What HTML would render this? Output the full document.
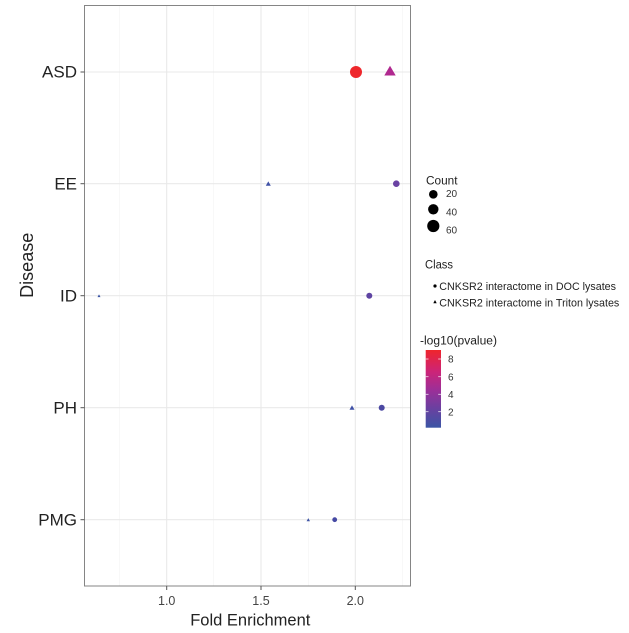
<!DOCTYPE html>
<html>
<head>
<meta charset="utf-8">
<style>
html,body{margin:0;padding:0;background:#fff;}
svg{display:block;font-family:"Liberation Sans",Arial,sans-serif;}
</style>
</head>
<body>
<svg width="629" height="633" viewBox="0 0 629 633" xmlns="http://www.w3.org/2000/svg">
<defs>
<linearGradient id="cb" x1="0" y1="1" x2="0" y2="0">
<stop offset="0" stop-color="#3b55a5"/>
<stop offset="0.25" stop-color="#6a40a0"/>
<stop offset="0.48" stop-color="#9b2f98"/>
<stop offset="0.72" stop-color="#cc2478"/>
<stop offset="1" stop-color="#ef252c"/>
</linearGradient>
</defs>
<rect x="0" y="0" width="629" height="633" fill="#fff"/>
<!-- minor grid -->
<g stroke="#f2f2f2" stroke-width="0.6">
<line x1="119.3" y1="5.5" x2="119.3" y2="586"/>
<line x1="213.7" y1="5.5" x2="213.7" y2="586"/>
<line x1="308.3" y1="5.5" x2="308.3" y2="586"/>
<line x1="402.7" y1="5.5" x2="402.7" y2="586"/>
</g>
<!-- major grid -->
<g stroke="#e9e9e9" stroke-width="1.1">
<line x1="166.7" y1="5.5" x2="166.7" y2="586"/>
<line x1="261" y1="5.5" x2="261" y2="586"/>
<line x1="355.3" y1="5.5" x2="355.3" y2="586"/>
<line x1="84.5" y1="72" x2="410.5" y2="72"/>
<line x1="84.5" y1="183.7" x2="410.5" y2="183.7"/>
<line x1="84.5" y1="295.7" x2="410.5" y2="295.7"/>
<line x1="84.5" y1="407.7" x2="410.5" y2="407.7"/>
<line x1="84.5" y1="519.7" x2="410.5" y2="519.7"/>
</g>
<!-- points -->
<circle cx="356" cy="72" r="6" fill="#ee272c"/>
<polygon points="384.3,75.5 395.7,75.5 390,65.8" fill="#b0288f"/>
<circle cx="396.3" cy="183.7" r="3.3" fill="#6a42a3"/>
<polygon points="265.8,185.8 270.8,185.8 268.3,181.4" fill="#3f51a6"/>
<circle cx="369.3" cy="295.7" r="3" fill="#5e44a2"/>
<polygon points="97.5,297.1 100.5,297.1 99,294.4" fill="#3b55a5"/>
<circle cx="381.7" cy="407.7" r="3" fill="#4b48a2"/>
<polygon points="349.5,409.8 354.5,409.8 352,405.4" fill="#3f50a6"/>
<circle cx="334.7" cy="519.7" r="2.4" fill="#4549a3"/>
<polygon points="306.6,521.3 310,521.3 308.3,518.1" fill="#3d53a5"/>
<!-- panel border -->
<rect x="84.5" y="5.5" width="326" height="580.5" fill="none" stroke="#858585" stroke-width="1"/>
<!-- ticks -->
<g stroke="#555" stroke-width="1">
<line x1="80.5" y1="72" x2="84.5" y2="72"/>
<line x1="80.5" y1="183.7" x2="84.5" y2="183.7"/>
<line x1="80.5" y1="295.7" x2="84.5" y2="295.7"/>
<line x1="80.5" y1="407.7" x2="84.5" y2="407.7"/>
<line x1="80.5" y1="519.7" x2="84.5" y2="519.7"/>
<line x1="166.7" y1="586" x2="166.7" y2="590"/>
<line x1="261" y1="586" x2="261" y2="590"/>
<line x1="355.3" y1="586" x2="355.3" y2="590"/>
</g>
<!-- y tick labels -->
<g font-size="17" fill="#222" text-anchor="end">
<text x="77" y="77.5">ASD</text>
<text x="77" y="189.5">EE</text>
<text x="77" y="301.5">ID</text>
<text x="77" y="413.5">PH</text>
<text x="77" y="525.5">PMG</text>
</g>
<!-- x tick labels -->
<g font-size="12.5" fill="#444" text-anchor="middle">
<text x="166.7" y="605">1.0</text>
<text x="261" y="605">1.5</text>
<text x="355.3" y="605">2.0</text>
</g>
<!-- axis titles -->
<text x="250.3" y="625.5" font-size="16.5" fill="#222" text-anchor="middle">Fold Enrichment</text>
<text transform="translate(33,265.3) rotate(-90)" font-size="18" fill="#222" text-anchor="middle">Disease</text>
<!-- Count legend -->
<text x="426" y="184.3" font-size="11.5" fill="#222" textLength="31.5" lengthAdjust="spacingAndGlyphs">Count</text>
<circle cx="433.3" cy="194.3" r="4.3" fill="#000"/>
<circle cx="433.3" cy="209.3" r="5.2" fill="#000"/>
<circle cx="433.3" cy="226" r="6.1" fill="#000"/>
<g font-size="10" fill="#333">
<text x="446" y="197">20</text>
<text x="446" y="215.5">40</text>
<text x="446" y="233.3">60</text>
</g>
<!-- Class legend -->
<text x="425" y="268.3" font-size="11.5" fill="#222" textLength="28" lengthAdjust="spacingAndGlyphs">Class</text>
<circle cx="435" cy="286" r="1.6" fill="#000"/>
<polygon points="433.3,303.2 436.7,303.2 435,300" fill="#000"/>
<text x="439.3" y="289.8" font-size="10.6" fill="#222" textLength="176.7" lengthAdjust="spacingAndGlyphs">CNKSR2 interactome in DOC lysates</text>
<text x="439.3" y="306.3" font-size="10.6" fill="#222" textLength="180" lengthAdjust="spacingAndGlyphs">CNKSR2 interactome in Triton lysates</text>
<!-- colorbar legend -->
<text x="420" y="344.5" font-size="11.5" fill="#222" textLength="77" lengthAdjust="spacingAndGlyphs">-log10(pvalue)</text>
<rect x="425.7" y="350" width="15.3" height="77.7" fill="url(#cb)"/>
<g stroke="#fff" stroke-width="0.8" opacity="0.85">
<line x1="425.7" y1="359" x2="428.5" y2="359"/><line x1="438.2" y1="359" x2="441" y2="359"/>
<line x1="425.7" y1="376.7" x2="428.5" y2="376.7"/><line x1="438.2" y1="376.7" x2="441" y2="376.7"/>
<line x1="425.7" y1="394.3" x2="428.5" y2="394.3"/><line x1="438.2" y1="394.3" x2="441" y2="394.3"/>
<line x1="425.7" y1="411.7" x2="428.5" y2="411.7"/><line x1="438.2" y1="411.7" x2="441" y2="411.7"/>
</g>
<g font-size="10" fill="#333">
<text x="448" y="362.6">8</text>
<text x="448" y="380.3">6</text>
<text x="448" y="397.9">4</text>
<text x="448" y="415.3">2</text>
</g>
</svg>
</body>
</html>
